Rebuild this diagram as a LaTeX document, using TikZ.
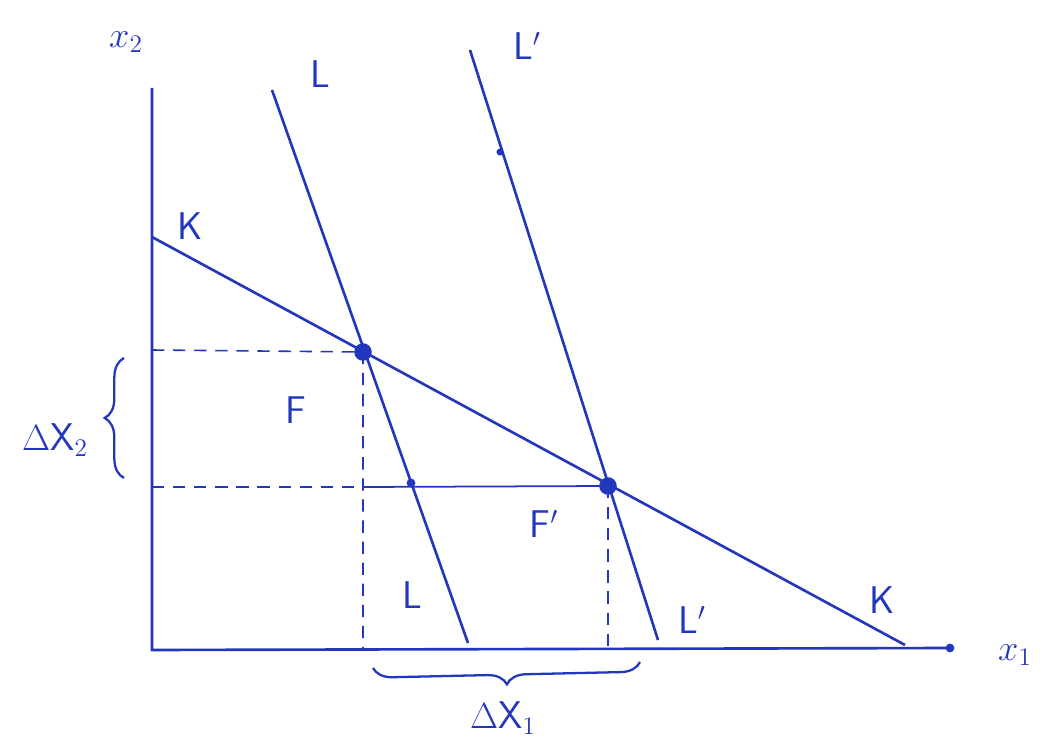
\documentclass[tikz,border=0pt]{standalone}
\usepackage{amsmath}
\usepackage{tikz}
\usetikzlibrary{positioning, calc, decorations.pathreplacing}
\definecolor{inkblue}{RGB}{35,55,190}

\begin{document}
\begin{tikzpicture}[x=0.02cm, y=-0.02cm,
          font=\fontsize{22}{26}\selectfont\sffamily,
          ink/.style={inkblue, line width=1.5pt},
          guide/.style={inkblue, line width=0.9pt, dash pattern=on 7pt off 5pt},
          lbl/.style={inkblue, inner sep=1pt},
          dot/.style={circle, fill=inkblue, inner sep=0pt, minimum size=10pt},
          brc/.style={inkblue, line width=1.3pt, decorate, decoration={brace, amplitude=11pt}}]
        \useasboundingbox (0,0) rectangle (1041,749);
        % axes
        \coordinate (O) at (152,650);
        \coordinate (ytop) at (152,88);
        \coordinate (xend) at (950,648);
        \draw[ink] (ytop) -- (O) -- (xend);
        \fill[inkblue] (xend) circle (2.5pt);
        \node[lbl] (x2) at (126,42) {$x_2$};
        \node[lbl] (x1) at (1015,655) {$x_1$};
        % lines K, L, L'
        \coordinate (K0) at (152,237);  \coordinate (K1) at (905,645);
        \coordinate (L0) at (272,90);   \coordinate (L1) at (468,643);
        \coordinate (M0) at (470,50);   \coordinate (M1) at (658,640);
        \draw[ink] (K0) -- (K1);
        \draw[ink] (L0) -- (L1);
        \draw[ink] (M0) -- (M1);
        \fill[inkblue] (500,152) circle (2pt);
        % equilibria
        \node[dot] (F)  at (363,352) {};
        \node[dot] (Fp) at (608,486) {};
        \coordinate (Fy)  at (152,350);  \coordinate (Fx)  at (363,650);
        \coordinate (Fpy) at (152,487);  \coordinate (Fpx) at (608,650);
        \coordinate (cut) at (363,487);
        \draw[guide] (Fy) -- (F.center) -- (Fx);
        \draw[guide] (Fpy) -- (cut);
        \draw[ink, line width=1pt] (cut) -- (Fp.center);
        \draw[guide] (Fp.center) -- (Fpx);
        \fill[inkblue] (411,483) circle (2.5pt);
        % labels
        \node[lbl] (Ktop) at (190,226) {K};
        \node[lbl] (Kbot) at (882,600) {K};
        \node[lbl] (Ltop) at (320,74) {L};
        \node[lbl] (Lbot) at (412,595) {L};
        \node[lbl] (Mtop) at (527,46) {L$'$};
        \node[lbl] (Mbot) at (692,620) {L$'$};
        \node[lbl] (Flbl)  at (296,410) {F};
        \node[lbl] (Fplbl) at (544,524) {F$'$};
        % braces
        \draw[brc] (124,478) -- (124,358);
        \draw[brc] (640,662) -- (373,668);
        \node[lbl] (dx2) at (55,440) {$\Delta$X$_2$};
        \node[lbl] (dx1) at (503,718) {$\Delta$X$_1$};
      \end{tikzpicture}
\end{document}
